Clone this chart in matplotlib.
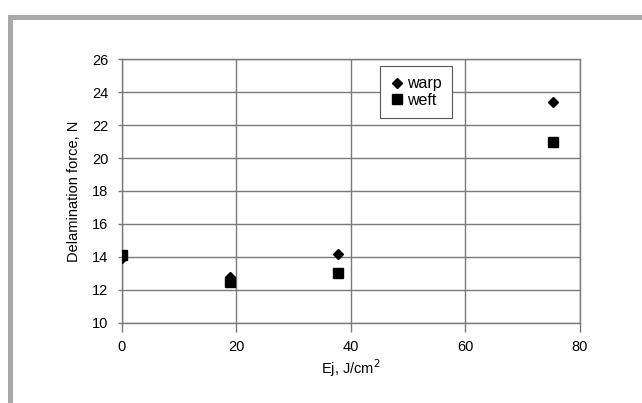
import matplotlib
matplotlib.use("Agg")
import matplotlib.pyplot as plt
from matplotlib.patches import Rectangle

plt.rcParams['font.family'] = ['Liberation Sans', 'DejaVu Sans']

ej = [0, 18.9, 37.7, 75.4]
warp = [13.9, 12.8, 14.2, 23.4]
weft = [14.1, 12.5, 13.0, 21.0]
xticks = [0, 20, 40, 60, 80]
yticks = [10, 12, 14, 16, 18, 20, 22, 24, 26]

fig = plt.figure(figsize=(6.42, 4.03), dpi=100)
ax = fig.add_axes([0.1896, 0.1993, 0.903 - 0.1896, 0.853 - 0.1993])

ax.plot(ej, weft, linestyle='none', marker='s', ms=6.5, color='black', label='weft', zorder=3)
ax.plot(ej, warp, linestyle='none', marker='D', ms=5, color='black', label='warp', zorder=4)

ax.set_xlim(0, 80)
ax.set_ylim(10, 26)
ax.set_xticks(xticks)
ax.set_yticks(yticks)
ax.grid(True, color='#7a7a7a', linewidth=1.0)
ax.set_axisbelow(True)
for s in ax.spines.values():
    s.set_color('#7a7a7a')
    s.set_linewidth(1.0)
ax.tick_params(axis='x', length=6.5, width=1.0, color='#7a7a7a', labelsize=10.5, pad=6)
ax.tick_params(axis='y', length=3.2, width=1.0, color='#7a7a7a', labelsize=10.5, pad=6.5)
ax.set_xlabel('Ej, J/cm$^2$', fontsize=10.5, labelpad=2)
ax.set_ylabel('Delamination force, N', fontsize=10.5, labelpad=8)

h, l = ax.get_legend_handles_labels()
leg = ax.legend([h[1], h[0]], [l[1], l[0]], loc='upper left',
                bbox_to_anchor=((380 - 121.7) / 458, (322.7 - 66) / 263.4),
                fontsize=11.5, frameon=True, fancybox=False, framealpha=1,
                edgecolor='#555555', handlelength=0.8, handletextpad=0.25,
                borderpad=0.65, labelspacing=0.1, borderaxespad=0)
leg.get_frame().set_linewidth(0.8)

fig.patches.append(Rectangle((9.8 / 642, -0.1), 1.2, 1 - 17 / 403 + 0.1,
                             transform=fig.transFigure, fill=False,
                             edgecolor='#a8a8a8', linewidth=3.6, zorder=0))

fig.savefig('out.png', dpi=100)
